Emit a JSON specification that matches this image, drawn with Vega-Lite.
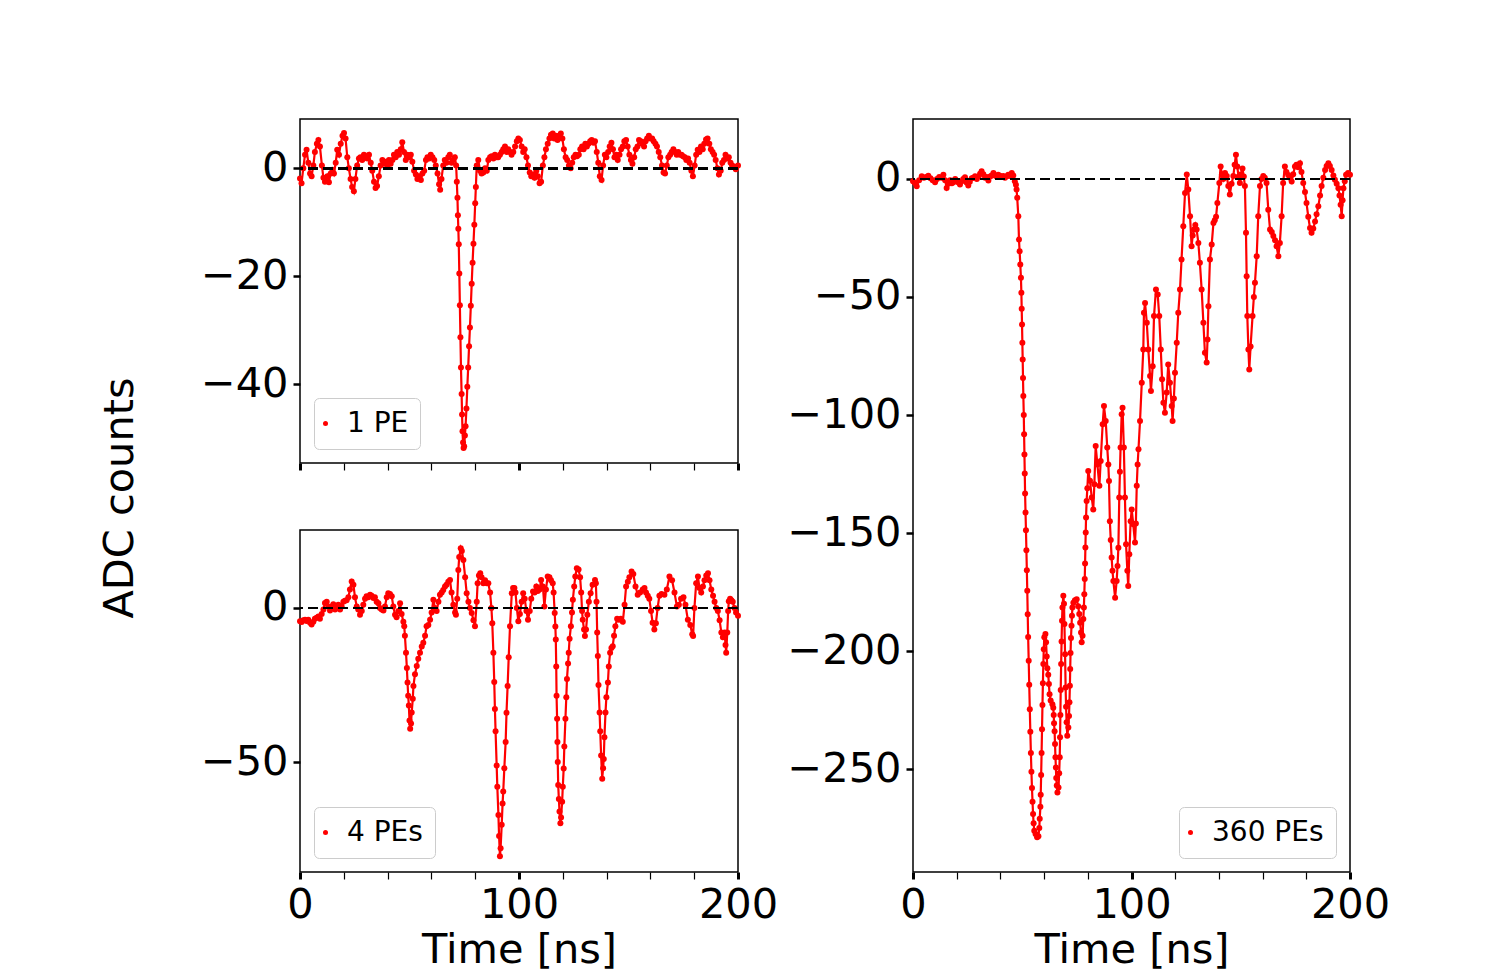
{
  "$schema": "https://vega.github.io/schema/vega-lite/v6.json",
  "padding": {"left": 100, "top": 118, "right": 5, "bottom": 2},
  "background": "white",
  "title": {
    "text": "ADC counts",
    "orient": "left",
    "anchor": "middle",
    "font": "DejaVu Sans",
    "fontSize": 41.5,
    "fontWeight": "normal",
    "color": "black",
    "offset": 58,
    "dx": 47
  },
  "config": {
    "font": "DejaVu Sans",
    "view": {"stroke": "black", "strokeWidth": 1.5},
    "axis": {
      "domain": false,
      "grid": false,
      "labelFont": "DejaVu Sans",
      "labelFontSize": 41.5,
      "labelColor": "black",
      "labelPadding": 5,
      "labelFlush": false,
      "labelOverlap": false,
      "tickColor": "black",
      "tickSize": 7,
      "titleFont": "DejaVu Sans",
      "titleFontSize": 41.5,
      "titleFontWeight": "normal",
      "titleColor": "black",
      "titlePadding": 4
    },
    "legend": {
      "title": null,
      "offset": 14,
      "padding": 11.5,
      "labelFont": "DejaVu Sans",
      "labelFontSize": 28,
      "labelColor": "black",
      "labelOffset": 7.5,
      "symbolOffset": -14,
      "labelLimit": 400,
      "symbolType": "circle",
      "symbolSize": 25,
      "symbolStrokeWidth": 0,
      "symbolFillColor": "#ff0000",
      "strokeColor": "#cccccc",
      "fillColor": "white",
      "cornerRadius": 5
    }
  },
  "datasets": {
    "pe1": [
      {"t":0,"v":-1.9},{"t":0.7,"v":-2.8},{"t":1.5,"v":0},{"t":2.3,"v":2.5},{"t":3.0,"v":3.4},{"t":3.8,"v":1},{"t":4.6,"v":-1},{"t":5.3,"v":-1.5},{"t":6.1,"v":0.5},{"t":6.8,"v":3},{"t":7.7,"v":4.5},{"t":8.4,"v":5.2},{"t":9.1,"v":4},{"t":10,"v":0.5},{"t":10.7,"v":-1.8},{"t":11.4,"v":-2.5},{"t":12.5,"v":-1.5},{"t":13.2,"v":-2.6},{"t":14,"v":-1},{"t":14.8,"v":-0.3},{"t":15.5,"v":-1},{"t":16.3,"v":1},{"t":17,"v":3.4},{"t":17.8,"v":2.5},{"t":18.6,"v":4.5},{"t":19.4,"v":6},{"t":20.1,"v":6.5},{"t":20.8,"v":5.5},{"t":21.6,"v":2},{"t":22.3,"v":0},{"t":23.1,"v":-2},{"t":23.8,"v":-3.5},{"t":24.6,"v":-4.3},{"t":25.3,"v":-2},{"t":26.1,"v":0.5},{"t":26.9,"v":1.8},{"t":27.6,"v":2},{"t":28.4,"v":1.5},{"t":29.2,"v":2.5},{"t":30,"v":2.2},{"t":30.7,"v":1.8},{"t":31.5,"v":2.5},{"t":32.3,"v":1},{"t":33,"v":-0.5},{"t":33.8,"v":-2.5},{"t":34.5,"v":-3.7},{"t":35.2,"v":-3.3},{"t":36,"v":-1.5},{"t":36.8,"v":0.5},{"t":37.6,"v":1.5},{"t":38.3,"v":0.8},{"t":39.1,"v":1.2},{"t":39.9,"v":0.5},{"t":40.6,"v":1.5},{"t":41.4,"v":0.8},{"t":42.2,"v":1.5},{"t":42.9,"v":2.5},{"t":43.7,"v":2},{"t":44.4,"v":3},{"t":45.2,"v":2.5},{"t":46,"v":3.5},{"t":46.7,"v":4.8},{"t":47.5,"v":3},{"t":48.3,"v":1.5},{"t":49,"v":2.5},{"t":49.8,"v":2},{"t":50.6,"v":2.5},{"t":51.3,"v":1.2},{"t":52.1,"v":-0.5},{"t":52.9,"v":-1.2},{"t":53.6,"v":-2},{"t":54.4,"v":-1.5},{"t":55.2,"v":-2.2},{"t":55.9,"v":-1},{"t":56.7,"v":-0.5},{"t":57.5,"v":1.5},{"t":58.2,"v":2},{"t":59,"v":1.8},{"t":59.7,"v":2.5},{"t":60.5,"v":2},{"t":61.3,"v":1.5},{"t":62,"v":0.5},{"t":62.8,"v":-1},{"t":63.5,"v":-3},{"t":64,"v":-4},{"t":64.6,"v":-2},{"t":65.4,"v":0.5},{"t":66.1,"v":1.5},{"t":66.9,"v":1},{"t":67.7,"v":2},{"t":68.4,"v":2.5},{"t":69.2,"v":1},{"t":70,"v":1.5},{"t":70.7,"v":2},{"t":71.3,"v":0.5},{"t":71.6,"v":-2.5},{"t":71.9,"v":-5.5},{"t":72.1,"v":-8.7},{"t":72.3,"v":-11.2},{"t":72.5,"v":-14.1},{"t":72.75,"v":-19.5},{"t":73,"v":-25.4},{"t":73.25,"v":-31.3},{"t":73.5,"v":-36.9},{"t":73.8,"v":-41.8},{"t":74,"v":-45.6},{"t":74.2,"v":-48.7},{"t":74.45,"v":-50.8},{"t":74.7,"v":-51.8},{"t":74.95,"v":-51.5},{"t":75.3,"v":-49.5},{"t":75.6,"v":-47.8},{"t":76,"v":-44.5},{"t":76.4,"v":-40.5},{"t":76.8,"v":-36.9},{"t":77.2,"v":-33},{"t":77.6,"v":-29.5},{"t":78,"v":-25.5},{"t":78.4,"v":-21.4},{"t":78.8,"v":-17.5},{"t":79.2,"v":-14},{"t":79.6,"v":-10.5},{"t":80,"v":-6.5},{"t":80.3,"v":-3.5},{"t":80.7,"v":0.5},{"t":81.4,"v":1.5},{"t":82.2,"v":-0.5},{"t":82.9,"v":-1},{"t":83.7,"v":-0.8},{"t":84.5,"v":0},{"t":85.3,"v":-0.5},{"t":86,"v":1.5},{"t":86.8,"v":2},{"t":87.5,"v":2.2},{"t":88.3,"v":1.8},{"t":89,"v":2.5},{"t":89.8,"v":2},{"t":90.5,"v":2},{"t":91.3,"v":2.5},{"t":92.1,"v":3},{"t":92.8,"v":3.5},{"t":93.6,"v":4},{"t":94.4,"v":3},{"t":95.1,"v":3.5},{"t":95.9,"v":3},{"t":96.6,"v":2.5},{"t":97.4,"v":3},{"t":98.2,"v":4},{"t":99,"v":5},{"t":99.7,"v":5.5},{"t":100.4,"v":5.2},{"t":101.2,"v":4},{"t":101.9,"v":3},{"t":102.6,"v":3.5},{"t":103.4,"v":2},{"t":104.1,"v":0.5},{"t":104.9,"v":-0.8},{"t":105.6,"v":-1.5},{"t":106.4,"v":-1.2},{"t":107.1,"v":-1.8},{"t":107.9,"v":-0.5},{"t":108.6,"v":-1.5},{"t":109.4,"v":-2.8},{"t":110.1,"v":-2.5},{"t":110.9,"v":0.5},{"t":111.6,"v":2},{"t":112.3,"v":3.5},{"t":113.1,"v":4.5},{"t":113.9,"v":5.5},{"t":114.6,"v":6.2},{"t":115.4,"v":6.4},{"t":116.1,"v":5.5},{"t":116.8,"v":6},{"t":117.6,"v":5.2},{"t":118.3,"v":6},{"t":119.1,"v":6.4},{"t":119.8,"v":5.5},{"t":120.5,"v":3.5},{"t":121.3,"v":2},{"t":122,"v":1.5},{"t":122.8,"v":0.5},{"t":123.6,"v":0},{"t":124.3,"v":1},{"t":125,"v":2},{"t":125.8,"v":2.5},{"t":126.5,"v":2.2},{"t":127.3,"v":2.5},{"t":128,"v":3.5},{"t":128.8,"v":4},{"t":129.5,"v":3.5},{"t":130.3,"v":4.5},{"t":131,"v":4},{"t":131.7,"v":4.5},{"t":132.5,"v":5},{"t":133.2,"v":5.2},{"t":134,"v":4.7},{"t":134.7,"v":5},{"t":135.5,"v":3},{"t":136.2,"v":1},{"t":136.9,"v":-1.5},{"t":137.7,"v":-2.2},{"t":138.4,"v":0.5},{"t":139.2,"v":2.5},{"t":139.9,"v":2},{"t":140.7,"v":3},{"t":141.4,"v":4},{"t":142.2,"v":4.7},{"t":142.9,"v":3.5},{"t":143.6,"v":2},{"t":144.4,"v":2.5},{"t":145.1,"v":1.5},{"t":145.9,"v":2.5},{"t":146.6,"v":3.5},{"t":147.4,"v":4},{"t":148.1,"v":5},{"t":148.9,"v":5.2},{"t":149.6,"v":4},{"t":150.4,"v":2.5},{"t":151.1,"v":1.5},{"t":151.8,"v":0.8},{"t":152.6,"v":2},{"t":153.3,"v":3.5},{"t":154.1,"v":4},{"t":154.8,"v":5.2},{"t":155.6,"v":5},{"t":156.3,"v":4.5},{"t":157.1,"v":4},{"t":157.8,"v":5},{"t":158.5,"v":5.5},{"t":159.3,"v":6},{"t":160,"v":5.5},{"t":160.8,"v":5.5},{"t":161.5,"v":5},{"t":162.3,"v":4.5},{"t":163,"v":4},{"t":163.8,"v":3},{"t":164.5,"v":2},{"t":165.3,"v":0.5},{"t":166,"v":-0.8},{"t":166.7,"v":-1},{"t":167.5,"v":0.5},{"t":168.2,"v":2},{"t":169,"v":2.5},{"t":169.7,"v":3},{"t":170.5,"v":3.5},{"t":171.2,"v":3},{"t":172,"v":2.5},{"t":172.7,"v":3},{"t":173.5,"v":2.5},{"t":174.2,"v":2.5},{"t":174.9,"v":2.2},{"t":175.7,"v":2},{"t":176.4,"v":1.5},{"t":177.2,"v":1.8},{"t":177.9,"v":1},{"t":178.7,"v":-0.5},{"t":179.4,"v":-1.5},{"t":180.2,"v":0.5},{"t":180.9,"v":2.5},{"t":181.6,"v":3.4},{"t":182.4,"v":3},{"t":183.1,"v":4},{"t":183.9,"v":3.5},{"t":184.6,"v":4.5},{"t":185.4,"v":5.3},{"t":186.1,"v":5.5},{"t":186.9,"v":4.5},{"t":187.6,"v":3.5},{"t":188.4,"v":3},{"t":189.1,"v":2.5},{"t":189.8,"v":1.5},{"t":190.6,"v":0},{"t":191.3,"v":-1.2},{"t":192.1,"v":-0.5},{"t":192.8,"v":1},{"t":193.6,"v":1.5},{"t":194.3,"v":2.5},{"t":195.1,"v":1.8},{"t":195.8,"v":2},{"t":196.6,"v":1},{"t":197.3,"v":0.5},{"t":198,"v":0.3},{"t":199,"v":-0.2},{"t":200,"v":0.5}
    ],
    "pe4": [
      {"t":0,"v":-4.3},{"t":0.76,"v":-4.6},{"t":1.5,"v":-4},{"t":2.3,"v":-3.8},{"t":3.0,"v":-4.2},{"t":3.8,"v":-3.8},{"t":4.6,"v":-4.8},{"t":5.3,"v":-5.4},{"t":6.1,"v":-4.5},{"t":6.8,"v":-3.5},{"t":7.6,"v":-3.2},{"t":8.4,"v":-2.8},{"t":9.1,"v":-3.5},{"t":9.9,"v":-2},{"t":10.7,"v":-0.5},{"t":11.4,"v":1.6},{"t":12.2,"v":2},{"t":12.9,"v":0.5},{"t":13.7,"v":-0.8},{"t":14.5,"v":0.5},{"t":15.2,"v":1.2},{"t":16,"v":-0.5},{"t":16.7,"v":0.2},{"t":17.5,"v":1},{"t":18.3,"v":-0.5},{"t":19,"v":0.5},{"t":19.8,"v":2},{"t":20.5,"v":2.3},{"t":21.3,"v":2.5},{"t":22.1,"v":3.5},{"t":22.8,"v":6},{"t":23.6,"v":8.6},{"t":24.4,"v":7.5},{"t":25.1,"v":3.5},{"t":25.9,"v":0.5},{"t":26.6,"v":-0.5},{"t":27.4,"v":-2.2},{"t":28.2,"v":-1},{"t":28.9,"v":1},{"t":29.7,"v":3},{"t":30.4,"v":3.8},{"t":31.2,"v":3.5},{"t":32,"v":4.3},{"t":32.7,"v":4},{"t":33.5,"v":3.2},{"t":34.2,"v":3.5},{"t":35,"v":2},{"t":35.8,"v":1.5},{"t":36.5,"v":0},{"t":37.3,"v":-0.5},{"t":38.1,"v":-0.8},{"t":38.8,"v":0.5},{"t":39.6,"v":3.5},{"t":40.3,"v":4.8},{"t":41.1,"v":4.5},{"t":41.9,"v":3.8},{"t":42.6,"v":0.5},{"t":43.4,"v":-2.2},{"t":44.1,"v":-3},{"t":44.9,"v":-1},{"t":45.7,"v":1.5},{"t":46.4,"v":-2},{"t":47.2,"v":-4.5},{"t":47.6,"v":-5.9},{"t":47.9,"v":-9},{"t":48.4,"v":-14.5},{"t":48.8,"v":-19.5},{"t":49.1,"v":-24.2},{"t":49.4,"v":-28.5},{"t":49.7,"v":-31.7},{"t":50,"v":-36.5},{"t":50.3,"v":-39.2},{"t":50.7,"v":-37.5},{"t":51,"v":-33.9},{"t":51.5,"v":-29.5},{"t":51.8,"v":-25.3},{"t":52.5,"v":-21.5},{"t":53.3,"v":-18.8},{"t":54,"v":-16.5},{"t":54.8,"v":-14.5},{"t":55.6,"v":-12.5},{"t":56.3,"v":-11.3},{"t":57.1,"v":-9},{"t":57.8,"v":-5.9},{"t":58.6,"v":-5.5},{"t":59.4,"v":-3.8},{"t":60.1,"v":-1.5},{"t":60.9,"v":2.7},{"t":61.6,"v":0},{"t":62.4,"v":-1},{"t":63.2,"v":2},{"t":63.9,"v":4.3},{"t":64.7,"v":5},{"t":65.4,"v":5.8},{"t":66.2,"v":7},{"t":66.9,"v":7.5},{"t":67.7,"v":8.5},{"t":68.5,"v":9.1},{"t":69.2,"v":5},{"t":70,"v":1},{"t":70.8,"v":-1.5},{"t":71.2,"v":-2.2},{"t":71.8,"v":3},{"t":72.3,"v":12.3},{"t":72.7,"v":16.5},{"t":73.4,"v":19.4},{"t":73.9,"v":18.5},{"t":74.6,"v":15.6},{"t":75.4,"v":10},{"t":76.1,"v":4.8},{"t":76.9,"v":2},{"t":77.6,"v":0},{"t":78.4,"v":-1.6},{"t":79.2,"v":-4},{"t":79.9,"v":-5.9},{"t":80.7,"v":2},{"t":81.1,"v":8},{"t":81.7,"v":10.5},{"t":82.3,"v":11.3},{"t":82.9,"v":10},{"t":83.7,"v":8},{"t":84.5,"v":9},{"t":85.3,"v":8},{"t":86,"v":8},{"t":86.8,"v":5},{"t":87.4,"v":0},{"t":87.8,"v":-5},{"t":88.3,"v":-14.5},{"t":88.7,"v":-24},{"t":89,"v":-32.8},{"t":89.3,"v":-40},{"t":89.8,"v":-51.1},{"t":90.1,"v":-58},{"t":90.6,"v":-67.2},{"t":90.9,"v":-74},{"t":91.3,"v":-80.6},{"t":91.6,"v":-78},{"t":92.1,"v":-70.4},{"t":92.5,"v":-63.5},{"t":92.8,"v":-59.6},{"t":93.3,"v":-52},{"t":93.9,"v":-43.5},{"t":94.3,"v":-34},{"t":94.8,"v":-25.3},{"t":95.3,"v":-16},{"t":95.9,"v":-5.9},{"t":96.7,"v":4.8},{"t":97.3,"v":6.5},{"t":97.9,"v":6.5},{"t":98.4,"v":5},{"t":99,"v":0},{"t":99.7,"v":-4.3},{"t":100.4,"v":-2},{"t":101.2,"v":2},{"t":101.9,"v":4.8},{"t":102.6,"v":3},{"t":103.4,"v":-1},{"t":104.1,"v":-3.8},{"t":104.9,"v":-1},{"t":105.6,"v":3},{"t":106.4,"v":5.3},{"t":107.1,"v":5},{"t":107.9,"v":7},{"t":108.6,"v":5.5},{"t":109.4,"v":6},{"t":110.1,"v":9.1},{"t":110.9,"v":7},{"t":111.6,"v":0.5},{"t":112.3,"v":6},{"t":113.1,"v":10.2},{"t":113.9,"v":10},{"t":114.6,"v":9},{"t":115.4,"v":8},{"t":115.8,"v":5},{"t":116.3,"v":-1.6},{"t":116.6,"v":-6},{"t":116.8,"v":-10.2},{"t":117,"v":-19},{"t":117.15,"v":-28.5},{"t":117.4,"v":-36},{"t":117.55,"v":-43.5},{"t":117.7,"v":-50},{"t":117.9,"v":-57.5},{"t":118.2,"v":-62},{"t":118.5,"v":-66.1},{"t":118.9,"v":-69.9},{"t":119.2,"v":-68},{"t":119.7,"v":-62.9},{"t":120,"v":-58},{"t":120.4,"v":-52.1},{"t":120.7,"v":-45},{"t":121.2,"v":-36},{"t":121.6,"v":-29},{"t":121.9,"v":-23.1},{"t":122.4,"v":-18},{"t":122.7,"v":-14.5},{"t":123.1,"v":-10},{"t":123.7,"v":-5.9},{"t":124.2,"v":-1.5},{"t":124.6,"v":2.7},{"t":125.2,"v":7},{"t":125.7,"v":10.2},{"t":126.4,"v":12.9},{"t":127.2,"v":12.5},{"t":127.9,"v":10},{"t":128.4,"v":5},{"t":128.8,"v":-1},{"t":129.1,"v":-3.8},{"t":129.7,"v":-7},{"t":130.1,"v":-9.1},{"t":130.6,"v":-7},{"t":131.2,"v":-2.2},{"t":131.9,"v":2},{"t":132.7,"v":4.8},{"t":133.6,"v":7.5},{"t":134.7,"v":9.1},{"t":135.1,"v":8},{"t":135.4,"v":2},{"t":135.7,"v":-8},{"t":136,"v":-15.6},{"t":136.3,"v":-25},{"t":136.8,"v":-33.9},{"t":137.1,"v":-40},{"t":137.5,"v":-47.9},{"t":138,"v":-55.4},{"t":138.4,"v":-52},{"t":138.7,"v":-49},{"t":139,"v":-42},{"t":139.5,"v":-33.9},{"t":139.9,"v":-29},{"t":140.6,"v":-24.2},{"t":141,"v":-19},{"t":141.6,"v":-14.5},{"t":142.2,"v":-13},{"t":142.8,"v":-12.4},{"t":143.4,"v":-9},{"t":144,"v":-5.9},{"t":144.8,"v":-3.5},{"t":145.6,"v":-3.8},{"t":146.5,"v":-3.5},{"t":147.4,"v":-4.5},{"t":148.2,"v":1},{"t":148.9,"v":7},{"t":149.7,"v":8.5},{"t":150.4,"v":10},{"t":151.4,"v":11.8},{"t":152.2,"v":11},{"t":153.2,"v":7},{"t":154.2,"v":4.3},{"t":155.3,"v":5},{"t":156.5,"v":6},{"t":157.3,"v":6.5},{"t":158,"v":5},{"t":158.8,"v":4},{"t":159.5,"v":3},{"t":160.3,"v":-1},{"t":161,"v":-4.8},{"t":161.8,"v":-7},{"t":162.5,"v":-5},{"t":163.3,"v":0},{"t":164.1,"v":4},{"t":165.1,"v":4.5},{"t":166.4,"v":4.3},{"t":167.5,"v":6},{"t":168.7,"v":10.2},{"t":169.9,"v":9},{"t":171,"v":5},{"t":172.1,"v":0.5},{"t":173,"v":1},{"t":174,"v":3},{"t":175.1,"v":3.5},{"t":176,"v":1},{"t":177.1,"v":-3.8},{"t":178.2,"v":-5.5},{"t":179.1,"v":-8.5},{"t":179.5,"v":-9.1},{"t":180.1,"v":0},{"t":180.9,"v":8},{"t":181.7,"v":10.2},{"t":182.4,"v":6.5},{"t":183.2,"v":5},{"t":184,"v":7},{"t":184.7,"v":9},{"t":185.5,"v":10.5},{"t":186.3,"v":11.3},{"t":187,"v":9},{"t":187.8,"v":6},{"t":188.6,"v":4},{"t":189.3,"v":2},{"t":190.1,"v":0},{"t":190.8,"v":-1},{"t":191.6,"v":-4},{"t":192.4,"v":-8},{"t":193.1,"v":-9.5},{"t":193.9,"v":-8},{"t":194.3,"v":-12},{"t":194.6,"v":-14.5},{"t":195.1,"v":-8},{"t":195.5,"v":-1},{"t":195.8,"v":2.2},{"t":196.4,"v":3},{"t":197,"v":2.5},{"t":197.6,"v":2},{"t":198.4,"v":0},{"t":199.1,"v":-1.5},{"t":200,"v":-2.5}
    ],
    "pe360": [
      {"t":0,"v":-1},{"t":0.9,"v":-1.7},{"t":1.7,"v":-3.1},{"t":2.8,"v":-0.5},{"t":4,"v":1.1},{"t":5,"v":0.5},{"t":6,"v":0.8},{"t":7,"v":1.4},{"t":8,"v":0.3},{"t":9,"v":-0.5},{"t":10.1,"v":-1.4},{"t":11,"v":0},{"t":12,"v":0.8},{"t":13,"v":0.5},{"t":13.9,"v":1.8},{"t":14.7,"v":-0.5},{"t":15.4,"v":-3.8},{"t":16.2,"v":-2},{"t":17,"v":-0.5},{"t":17.8,"v":-1.8},{"t":18.5,"v":-1.4},{"t":19.3,"v":0},{"t":20,"v":-0.8},{"t":20.8,"v":-1.5},{"t":21.5,"v":-2.4},{"t":22.3,"v":-1},{"t":23,"v":0},{"t":23.8,"v":0.7},{"t":24.5,"v":-1.5},{"t":25.3,"v":-2.8},{"t":26,"v":-1.2},{"t":26.9,"v":0.3},{"t":27.6,"v":0.5},{"t":28.4,"v":1.1},{"t":29.2,"v":0},{"t":30,"v":1},{"t":30.7,"v":2.2},{"t":31.4,"v":3.3},{"t":32.2,"v":2},{"t":33,"v":0.5},{"t":33.7,"v":0.8},{"t":34.5,"v":-0.7},{"t":35.3,"v":1},{"t":36,"v":1.5},{"t":36.8,"v":2.5},{"t":37.5,"v":1.5},{"t":38.3,"v":1},{"t":39,"v":1.8},{"t":39.8,"v":1.4},{"t":40.6,"v":0.8},{"t":41.3,"v":1.2},{"t":42.1,"v":0.5},{"t":42.9,"v":1.1},{"t":43.6,"v":1.8},{"t":44.4,"v":1.2},{"t":45.2,"v":2.5},{"t":45.9,"v":1.5},{"t":46.6,"v":-1},{"t":47.1,"v":-2.5},{"t":47.4,"v":-4.5},{"t":47.7,"v":-8},{"t":48.2,"v":-15.8},{"t":48.5,"v":-25.7},{"t":48.8,"v":-30.6},{"t":49.1,"v":-36.2},{"t":49.4,"v":-41.9},{"t":49.6,"v":-48.2},{"t":49.75,"v":-55},{"t":49.9,"v":-61.7},{"t":50.05,"v":-69.4},{"t":50.2,"v":-76.5},{"t":50.35,"v":-84.3},{"t":50.5,"v":-92},{"t":50.7,"v":-100},{"t":50.85,"v":-108.2},{"t":51,"v":-116.7},{"t":51.15,"v":-124.8},{"t":51.3,"v":-133.2},{"t":51.5,"v":-141.3},{"t":51.7,"v":-148.8},{"t":51.9,"v":-157.3},{"t":52.1,"v":-165.8},{"t":52.3,"v":-174.5},{"t":52.5,"v":-184.4},{"t":52.7,"v":-194},{"t":52.95,"v":-204.1},{"t":53.2,"v":-214.3},{"t":53.45,"v":-224.6},{"t":53.7,"v":-234.2},{"t":53.95,"v":-243.2},{"t":54.2,"v":-251.1},{"t":54.45,"v":-258},{"t":54.7,"v":-263.8},{"t":54.95,"v":-269},{"t":55.2,"v":-273},{"t":55.5,"v":-276.1},{"t":56.1,"v":-277.5},{"t":56.8,"v":-278.9},{"t":57.4,"v":-278.5},{"t":57.8,"v":-275},{"t":58,"v":-271},{"t":58.3,"v":-266},{"t":58.45,"v":-260.9},{"t":58.65,"v":-252.5},{"t":58.85,"v":-243.2},{"t":59.05,"v":-233.1},{"t":59.25,"v":-222.9},{"t":59.45,"v":-213.6},{"t":59.65,"v":-205.5},{"t":59.85,"v":-199.2},{"t":60.1,"v":-194.2},{"t":60.6,"v":-192.8},{"t":60.9,"v":-196.3},{"t":61.2,"v":-202.3},{"t":61.5,"v":-207.3},{"t":61.9,"v":-210},{"t":62.2,"v":-214},{"t":62.5,"v":-218.3},{"t":63,"v":-220.9},{"t":63.8,"v":-222.5},{"t":64.2,"v":-224},{"t":64.4,"v":-227.1},{"t":64.55,"v":-230.6},{"t":64.8,"v":-234},{"t":65,"v":-239.4},{"t":65.2,"v":-245},{"t":65.4,"v":-249.3},{"t":65.55,"v":-253.8},{"t":65.8,"v":-257},{"t":66.1,"v":-259.9},{"t":66.6,"v":-257.8},{"t":66.9,"v":-251.8},{"t":67.15,"v":-245},{"t":67.3,"v":-236.5},{"t":67.45,"v":-227.1},{"t":67.6,"v":-216.5},{"t":67.8,"v":-205.5},{"t":68,"v":-195.9},{"t":68.2,"v":-187.2},{"t":68.4,"v":-181.6},{"t":68.8,"v":-176.6},{"t":69.1,"v":-180},{"t":69.3,"v":-188.5},{"t":69.6,"v":-201.3},{"t":69.85,"v":-215.4},{"t":70.05,"v":-223.6},{"t":70.3,"v":-230.2},{"t":70.6,"v":-235.9},{"t":71.1,"v":-232.4},{"t":71.4,"v":-227.5},{"t":71.6,"v":-221.7},{"t":71.8,"v":-214.7},{"t":71.95,"v":-207.6},{"t":72.1,"v":-200.8},{"t":72.3,"v":-194.5},{"t":72.55,"v":-189.3},{"t":72.75,"v":-185},{"t":72.95,"v":-181.6},{"t":73.4,"v":-179.5},{"t":74.1,"v":-178.5},{"t":74.9,"v":-178},{"t":75.6,"v":-181},{"t":76.1,"v":-184.3},{"t":76.5,"v":-188},{"t":76.9,"v":-192.1},{"t":77.2,"v":-196.3},{"t":77.6,"v":-193.5},{"t":77.95,"v":-186.4},{"t":78.2,"v":-181.5},{"t":78.4,"v":-175.9},{"t":78.6,"v":-169.5},{"t":78.75,"v":-162.9},{"t":78.9,"v":-156.1},{"t":79.05,"v":-149.8},{"t":79.2,"v":-143.4},{"t":79.45,"v":-136.4},{"t":79.8,"v":-131},{"t":80.2,"v":-123.7},{"t":81,"v":-127.8},{"t":81.8,"v":-135},{"t":82.5,"v":-140},{"t":83,"v":-129.3},{"t":83.6,"v":-113.1},{"t":84.4,"v":-121},{"t":85.3,"v":-130},{"t":85.9,"v":-119.5},{"t":86.8,"v":-103.9},{"t":87.4,"v":-96.2},{"t":88.2,"v":-102.5},{"t":88.9,"v":-113.8},{"t":89.4,"v":-121},{"t":89.7,"v":-128},{"t":90.1,"v":-145},{"t":90.5,"v":-153},{"t":90.9,"v":-160.4},{"t":91.3,"v":-166},{"t":91.7,"v":-170.3},{"t":92.5,"v":-177.4},{"t":93.2,"v":-170.3},{"t":93.6,"v":-164},{"t":94,"v":-156.2},{"t":94.4,"v":-135},{"t":94.7,"v":-124},{"t":95,"v":-113.8},{"t":95.5,"v":-99.7},{"t":95.9,"v":-96.9},{"t":96.5,"v":-113.8},{"t":97,"v":-135},{"t":97.5,"v":-154.7},{"t":98.1,"v":-166},{"t":98.5,"v":-172.4},{"t":99,"v":-159},{"t":99.6,"v":-145},{"t":100.1,"v":-140},{"t":100.8,"v":-146.3},{"t":101.6,"v":-154},{"t":102,"v":-146},{"t":102.4,"v":-130},{"t":102.8,"v":-121},{"t":103.2,"v":-114.5},{"t":103.9,"v":-102.5},{"t":104.7,"v":-86.3},{"t":105.4,"v":-72.2},{"t":105.7,"v":-56.7},{"t":106.2,"v":-52.5},{"t":107,"v":-60.9},{"t":107.7,"v":-72.2},{"t":108.5,"v":-83.5},{"t":108.9,"v":-89.8},{"t":109.7,"v":-79.3},{"t":110.3,"v":-58.1},{"t":111.2,"v":-46.8},{"t":112,"v":-49},{"t":112.7,"v":-58.1},{"t":113.4,"v":-72.2},{"t":114,"v":-84.9},{"t":114.6,"v":-94.8},{"t":115.3,"v":-99},{"t":116.1,"v":-90.5},{"t":116.8,"v":-78.6},{"t":117.6,"v":-86.3},{"t":118.4,"v":-96.2},{"t":118.8,"v":-102.5},{"t":119.4,"v":-93},{"t":119.9,"v":-82.1},{"t":120.7,"v":-69.4},{"t":121.4,"v":-56.7},{"t":122.2,"v":-46.8},{"t":122.9,"v":-34.1},{"t":123.7,"v":-20},{"t":124.5,"v":-5.9},{"t":125.3,"v":1.9},{"t":126,"v":-4.5},{"t":126.8,"v":-15.8},{"t":127.5,"v":-28.5},{"t":128,"v":-24},{"t":128.6,"v":-21.4},{"t":129.2,"v":-19.5},{"t":129.8,"v":-21.4},{"t":130.6,"v":-27.1},{"t":131.3,"v":-35.5},{"t":132.1,"v":-46.8},{"t":132.9,"v":-60.9},{"t":133.6,"v":-73.6},{"t":134.4,"v":-77.8},{"t":134.8,"v":-68},{"t":135.2,"v":-53.9},{"t":135.9,"v":-34.1},{"t":136.7,"v":-27.8},{"t":137.5,"v":-18.7},{"t":138.1,"v":-17.5},{"t":138.7,"v":-16},{"t":139.3,"v":-10.2},{"t":140.2,"v":-1.7},{"t":140.8,"v":5.3},{"t":141.4,"v":2},{"t":142,"v":0},{"t":142.8,"v":2.5},{"t":143.6,"v":1.2},{"t":144.3,"v":-3},{"t":145,"v":-6.6},{"t":145.8,"v":-2},{"t":146.6,"v":1.2},{"t":147.2,"v":6},{"t":147.8,"v":10.3},{"t":148.4,"v":5.3},{"t":149,"v":1},{"t":149.6,"v":-1.7},{"t":150.2,"v":2},{"t":150.8,"v":4.4},{"t":151.4,"v":1},{"t":151.9,"v":-3},{"t":152.4,"v":-22.8},{"t":152.7,"v":-41.2},{"t":153,"v":-58.1},{"t":153.5,"v":-72.2},{"t":153.9,"v":-80.7},{"t":154.5,"v":-71},{"t":155.4,"v":-58.1},{"t":156,"v":-50},{"t":156.5,"v":-44},{"t":157.3,"v":-32.7},{"t":158,"v":-15.8},{"t":158.8,"v":-3},{"t":159.5,"v":0},{"t":160.3,"v":1.2},{"t":161,"v":0.5},{"t":161.8,"v":-1.7},{"t":162.6,"v":-13},{"t":163.4,"v":-21.4},{"t":164.2,"v":-22.5},{"t":164.9,"v":-24.2},{"t":165.7,"v":-26},{"t":166.4,"v":-28.5},{"t":167.2,"v":-32.7},{"t":167.9,"v":-27.1},{"t":168.7,"v":-15.8},{"t":169.4,"v":-1.7},{"t":170.2,"v":5.3},{"t":170.9,"v":3},{"t":171.7,"v":1.7},{"t":172.5,"v":0.5},{"t":173.3,"v":-1.1},{"t":174,"v":2},{"t":174.8,"v":5.3},{"t":175.5,"v":6},{"t":176.3,"v":5},{"t":177.1,"v":6.7},{"t":177.8,"v":3},{"t":178.6,"v":-1.7},{"t":179.4,"v":-5.5},{"t":180.1,"v":-10.2},{"t":180.9,"v":-16},{"t":181.7,"v":-20.8},{"t":182.4,"v":-22.8},{"t":183.2,"v":-21},{"t":184,"v":-18},{"t":184.7,"v":-15},{"t":185.5,"v":-11.6},{"t":186.3,"v":-7},{"t":187,"v":-3},{"t":187.8,"v":0.5},{"t":188.6,"v":3.8},{"t":189.3,"v":5.5},{"t":190.1,"v":6.7},{"t":190.8,"v":5.5},{"t":191.6,"v":3.8},{"t":192.4,"v":1.5},{"t":193.1,"v":-0.3},{"t":193.9,"v":-2},{"t":194.7,"v":-3.9},{"t":195.2,"v":-7},{"t":195.7,"v":-10.9},{"t":196.2,"v":-15.8},{"t":196.6,"v":-9},{"t":197,"v":-3.9},{"t":197.6,"v":-1},{"t":198.2,"v":1.8},{"t":199.1,"v":2.5},{"t":200,"v":1.8}
    ]
  },
  "spacing": 7,
  "resolve": {"scale": {"color": "independent"}, "legend": {"color": "independent"}},
  "hconcat": [
    {
      "vconcat": [
        {
          "width": 438,
          "height": 344,
          "data": {"name": "pe1"},
          "layer": [
            {
              "mark": {"type": "line", "color": "#ff0000", "strokeWidth": 2.2},
              "encoding": {
                "x": {"field": "t", "type": "quantitative", "scale": {"domain": [0, 200], "nice": false}, "axis": {"values": [0,10,20,30,40,50,60,70,80,90,100,110,120,130,140,150,160,170,180,190,200], "labels": false, "title": null, "tickWidth": {"condition": {"test": "datum.value % 100 === 0", "value": 3}, "value": 1.2}}},
                "y": {"field": "v", "type": "quantitative", "scale": {"domain": [-54.6, 9.1], "nice": false, "zero": false}, "axis": {"values": [-40, -20, 0], "title": null, "tickWidth": 2.5}}
              }
            },
            {
              "mark": {"type": "point", "filled": true, "size": 36, "opacity": 1},
              "encoding": {
                "x": {"field": "t", "type": "quantitative"},
                "y": {"field": "v", "type": "quantitative"},
                "color": {"datum": "1 PE", "type": "nominal", "scale": {"range": ["#ff0000"]}, "legend": {"orient": "bottom-left"}}
              }
            },
            {
              "mark": {"type": "rule", "color": "black", "strokeWidth": 2, "strokeDash": [10, 5]},
              "encoding": {"y": {"datum": 0, "type": "quantitative", "axis": {"values": [-40, -20, 0], "title": null, "tickWidth": 2.5}}}
            }
          ]
        },
        {
          "width": 438,
          "height": 342,
          "data": {"name": "pe4"},
          "layer": [
            {
              "mark": {"type": "line", "color": "#ff0000", "strokeWidth": 2.2},
              "encoding": {
                "x": {"field": "t", "type": "quantitative", "scale": {"domain": [0, 200], "nice": false}, "axis": {"values": [0,10,20,30,40,50,60,70,80,90,100,110,120,130,140,150,160,170,180,190,200], "labelExpr": "datum.value % 100 === 0 ? datum.label : ''", "title": "Time [ns]", "tickWidth": {"condition": {"test": "datum.value % 100 === 0", "value": 3}, "value": 1.2}}},
                "y": {"field": "v", "type": "quantitative", "scale": {"domain": [-85.7, 25.3], "nice": false, "zero": false}, "axis": {"values": [-50, 0], "title": null, "tickWidth": 2.5}}
              }
            },
            {
              "mark": {"type": "point", "filled": true, "size": 36, "opacity": 1},
              "encoding": {
                "x": {"field": "t", "type": "quantitative"},
                "y": {"field": "v", "type": "quantitative"},
                "color": {"datum": "4 PEs", "type": "nominal", "scale": {"range": ["#ff0000"]}, "legend": {"orient": "bottom-left"}}
              }
            },
            {
              "mark": {"type": "rule", "color": "black", "strokeWidth": 2, "strokeDash": [10, 5]},
              "encoding": {"y": {"datum": 0, "type": "quantitative", "axis": {"values": [-50, 0], "title": null, "tickWidth": 2.5}}}
            }
          ]
        }
      ],
      "spacing": 67,
      "bounds": "flush",
      "resolve": {"scale": {"color": "independent"}, "legend": {"color": "independent"}}
    },
    {
      "width": 437,
      "height": 753,
      "data": {"name": "pe360"},
      "layer": [
        {
          "mark": {"type": "line", "color": "#ff0000", "strokeWidth": 2.2},
          "encoding": {
            "x": {"field": "t", "type": "quantitative", "scale": {"domain": [0, 200], "nice": false}, "axis": {"values": [0,10,20,30,40,50,60,70,80,90,100,110,120,130,140,150,160,170,180,190,200], "labelExpr": "datum.value % 100 === 0 ? datum.label : ''", "title": "Time [ns]", "tickWidth": {"condition": {"test": "datum.value % 100 === 0", "value": 3}, "value": 1.2}}},
            "y": {"field": "v", "type": "quantitative", "scale": {"domain": [-293.6, 25.4], "nice": false, "zero": false}, "axis": {"values": [-250, -200, -150, -100, -50, 0], "title": null, "tickWidth": 2.5}}
          }
        },
        {
          "mark": {"type": "point", "filled": true, "size": 36, "opacity": 1},
          "encoding": {
            "x": {"field": "t", "type": "quantitative"},
            "y": {"field": "v", "type": "quantitative"},
            "color": {"datum": "360 PEs", "type": "nominal", "scale": {"range": ["#ff0000"]}, "legend": {"orient": "bottom-right"}}
          }
        },
        {
          "mark": {"type": "rule", "color": "black", "strokeWidth": 2, "strokeDash": [10, 5]},
          "encoding": {"y": {"datum": 0, "type": "quantitative", "axis": {"values": [-250, -200, -150, -100, -50, 0], "title": null, "tickWidth": 2.5}}}
        }
      ]
    }
  ]
}
